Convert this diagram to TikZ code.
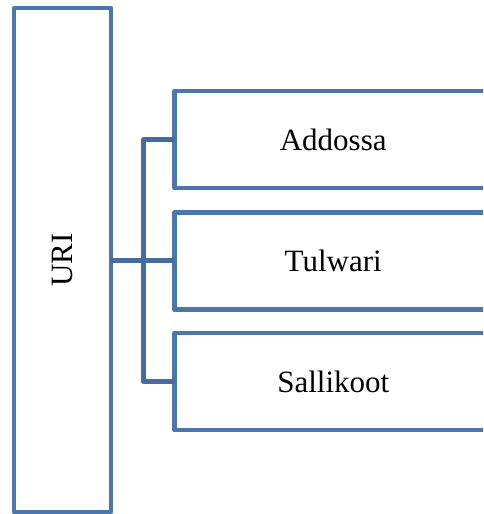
\documentclass[tikz,border=0pt]{standalone}
\usepackage{fontspec}
\setmainfont{Liberation Serif}
\definecolor{boxblue}{RGB}{74,120,174}
\definecolor{linkblue}{RGB}{68,108,160}
\tikzset{
  frame/.style={draw=boxblue, line width=4.5pt, line join=round, fill=white,
    inner sep=0pt, outer sep=0pt, font=\fontsize{31}{36}\selectfont},
  itembox/.style={frame, minimum width=317.5pt, minimum height=97pt},
  link/.style={draw=linkblue, line width=4.5pt, line join=round}
}
\begin{document}
\begin{tikzpicture}[x=1pt, y=-1pt]
  \useasboundingbox (0,0) rectangle (483,514);
  \clip (0,0) rectangle (483,514);
  % root box with vertical label
  \node[frame, minimum width=97pt, minimum height=504pt] (uri) at (62.5,260) {\rotatebox{90}{URI}};
  % branch boxes
  \node[itembox] (addossa) at (333.25,139.5) {Addossa};
  \node[itembox] (tulwari) at (333.25,261) {Tulwari};
  \node[itembox] (sallikoot) at (333.25,381.5) {Sallikoot};
  % bracket connectors
  \coordinate (spine) at (143.5,260.5);
  \draw[link] (addossa.west) -- (addossa.west -| spine) |- (sallikoot.west);
  \draw[link] (uri.east |- spine) -- (spine) -- (tulwari.west |- spine);
\end{tikzpicture}
\end{document}
